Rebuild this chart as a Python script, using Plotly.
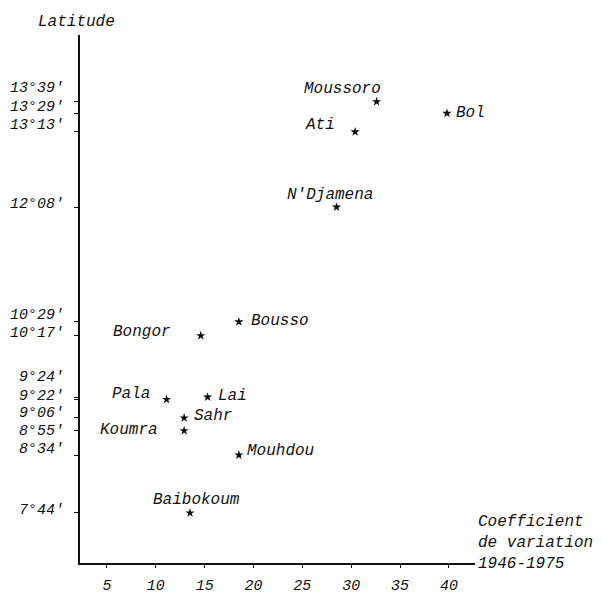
import plotly.graph_objects as go

# ---- data ----
stations = ["Moussoro", "Bol", "Ati", "N'Djamena", "Bousso", "Bongor",
            "Pala", "Lai", "Sahr", "Koumra", "Mouhdou", "Baibokoum"]
cv_values = [32.6, 39.8, 30.4, 28.5, 18.5, 14.6, 11.1, 15.3, 12.9, 12.9, 18.5, 13.5]
latitudes = [13 + 39/60, 13 + 29/60, 13 + 13/60, 12 + 8/60, 10 + 29/60, 10 + 17/60,
             9 + 22/60, 9 + 24/60, 9 + 6/60, 8 + 55/60, 8 + 34/60, 7 + 44/60]
lat_labels = ["13°39'", "13°29'", "13°13'", "12°08'", "10°29'", "10°17'",
              "9°22'", "9°24'", "9°06'", "8°55'", "8°34'", "7°44'"]
x_ticks = [5, 10, 15, 20, 25, 30, 35, 40]

# ---- styling (label placement offsets, px) ----
label_style = {
    "Moussoro": ("right", 6, 13),
    "Bol": ("left", 7, 0),
    "Ati": ("right", -18, 7),
    "N'Djamena": ("center", -7, 12),
    "Bousso": ("left", 10, 1),
    "Bongor": ("right", -28, 4),
    "Pala": ("right", -15, 5),
    "Lai": ("left", 8, 1),
    "Sahr": ("left", 8, 2),
    "Koumra": ("right", -24, 1),
    "Mouhdou": ("left", 6, 4),
    "Baibokoum": ("center", 6, 13),
}
tick_yshift = {"13°39'": 13, "13°29'": 6, "13°13'": 6, "12°08'": 3, "10°29'": 6,
               "10°17'": 2, "9°24'": 20, "9°22'": 3, "9°06'": 4, "8°55'": -1,
               "8°34'": 6, "7°44'": 2}

FONT = dict(family="Liberation Mono, Courier New, monospace", size=16, color="#111", style="italic")
TICKFONT = dict(FONT, size=15)

fig = go.Figure()
fig.add_trace(go.Scatter(
    x=cv_values, y=latitudes, mode="markers",
    marker=dict(symbol="star", size=7, color="#111"),
    hoverinfo="text", text=stations, showlegend=False,
))

annotations = []
for name, cv, lat in zip(stations, cv_values, latitudes):
    anchor, dx, dy = label_style[name]
    annotations.append(dict(x=cv, y=lat, xref="x", yref="y", text=name, showarrow=False,
                            xanchor=anchor, yanchor="middle", xshift=dx, yshift=dy, font=FONT))

for lbl, lat in zip(lat_labels, latitudes):
    annotations.append(dict(x=0, y=lat, xref="paper", yref="y", text=lbl, showarrow=False,
                            xanchor="right", yanchor="middle", xshift=-14,
                            yshift=tick_yshift.get(lbl, 4), font=TICKFONT))

annotations.append(dict(x=0, y=1, xref="paper", yref="paper", text="Latitude", showarrow=False,
                        xanchor="center", yanchor="middle", xshift=-4, yshift=13, font=FONT))
annotations.append(dict(x=1, y=0, xref="paper", yref="paper",
                        text="Coefficient<br>de variation<br>1946-1975", showarrow=False,
                        xanchor="left", yanchor="middle", align="left", xshift=1, yshift=20,
                        font=FONT))

fig.update_layout(
    width=603, height=594,
    margin=dict(l=72, r=136, t=27, b=39),
    paper_bgcolor="white", plot_bgcolor="white",
    annotations=annotations,
    xaxis=dict(range=[2.24, 42.67], tickvals=x_ticks, ticks="outside", ticklen=3,
               tickcolor="#111", showgrid=False, zeroline=False, showline=True,
               linecolor="#111", linewidth=1.5, tickfont=TICKFONT, ticklabelstandoff=4,
               automargin=False),
    yaxis=dict(range=[7.013, 14.61], tickvals=latitudes, ticks="outside", ticklen=4,
               tickcolor="#111", showticklabels=False, showgrid=False, zeroline=False,
               showline=True, linecolor="#111", linewidth=1.5, automargin=False),
)

fig.write_html("out.html")
